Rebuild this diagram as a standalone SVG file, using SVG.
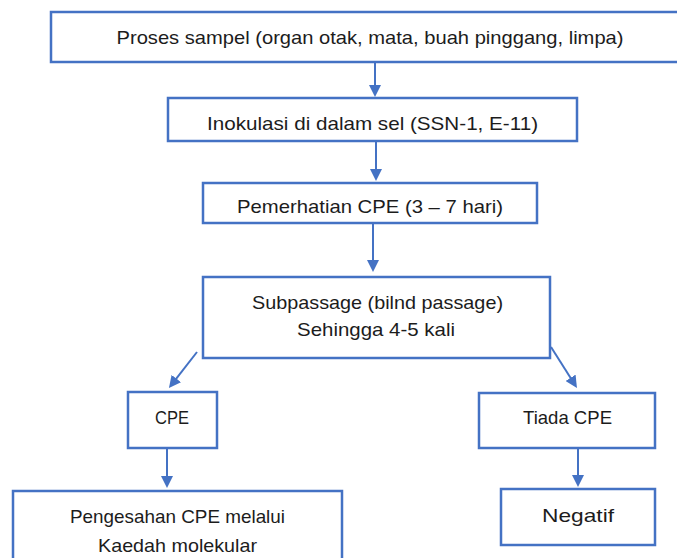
<svg xmlns="http://www.w3.org/2000/svg" width="677" height="558" viewBox="0 0 677 558">
<style>
.box{fill:#fff;stroke:#4472C4;stroke-width:2.5}
.lbl{font-family:"Liberation Sans",Arial,sans-serif;font-size:19px;fill:#1c1c1c;text-anchor:middle}
.con{stroke:#4472C4;stroke-width:2;fill:none}
</style>
<defs>
<marker id="ah" viewBox="0 0 12 12" markerWidth="12" markerHeight="12" refX="2" refY="6" orient="auto" markerUnits="userSpaceOnUse">
<path d="M0,0 L12,6 L0,12 z" fill="#4472C4"/>
</marker>
</defs>
<rect width="677" height="558" fill="#fff"/>
<g id="connectors">
<line class="con" x1="375" y1="62" x2="375" y2="87" marker-end="url(#ah)"/>
<line class="con" x1="376" y1="142" x2="376" y2="171" marker-end="url(#ah)"/>
<line class="con" x1="373" y1="224" x2="373" y2="262" marker-end="url(#ah)"/>
<line class="con" x1="197" y1="352" x2="175.1" y2="380.1" marker-end="url(#ah)"/>
<line class="con" x1="551" y1="347" x2="571.6" y2="379.5" marker-end="url(#ah)"/>
<line class="con" x1="167" y1="448" x2="167" y2="478" marker-end="url(#ah)"/>
<line class="con" x1="578" y1="448" x2="578" y2="477" marker-end="url(#ah)"/>
</g>
<g id="proses">
<rect class="box" x="51" y="12" width="638" height="50"/>
<text class="lbl" x="370" y="44" textLength="507" lengthAdjust="spacingAndGlyphs">Proses sampel (organ otak, mata, buah pinggang, limpa)</text>
</g>
<g id="inokulasi">
<rect class="box" x="168" y="98" width="409" height="43"/>
<text class="lbl" x="372.5" y="130" textLength="331" lengthAdjust="spacingAndGlyphs">Inokulasi di dalam sel (SSN-1, E-11)</text>
</g>
<g id="pemerhatian">
<rect class="box" x="203" y="183" width="334" height="40"/>
<text class="lbl" x="370" y="213" textLength="266" lengthAdjust="spacingAndGlyphs">Pemerhatian CPE (3 – 7 hari)</text>
</g>
<g id="subpassage">
<rect class="box" x="203" y="277" width="347" height="81"/>
<text class="lbl" x="377.5" y="309" textLength="251" lengthAdjust="spacingAndGlyphs">Subpassage (bilnd passage)</text>
<text class="lbl" x="376" y="336" textLength="158" lengthAdjust="spacingAndGlyphs">Sehingga 4-5 kali</text>
</g>
<g id="cpe">
<rect class="box" x="128" y="392" width="89" height="56"/>
<text class="lbl" x="172" y="424" textLength="34" lengthAdjust="spacingAndGlyphs">CPE</text>
</g>
<g id="tiada">
<rect class="box" x="479" y="393" width="176" height="55"/>
<text class="lbl" x="567.5" y="424" textLength="89" lengthAdjust="spacingAndGlyphs">Tiada CPE</text>
</g>
<g id="pengesahan">
<rect class="box" x="13" y="491" width="329" height="80"/>
<text class="lbl" x="177.5" y="523" textLength="215" lengthAdjust="spacingAndGlyphs">Pengesahan CPE melalui</text>
<text class="lbl" x="177.5" y="552" textLength="159" lengthAdjust="spacingAndGlyphs">Kaedah molekular</text>
</g>
<g id="negatif">
<rect class="box" x="501" y="489" width="154" height="56"/>
<text class="lbl" x="578" y="522" textLength="72" lengthAdjust="spacingAndGlyphs">Negatif</text>
</g>
</svg>
